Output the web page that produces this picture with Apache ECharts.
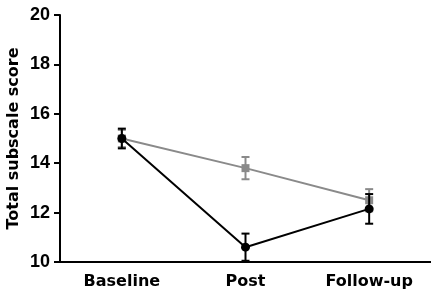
<!DOCTYPE html>
<html>
<head>
<meta charset="utf-8">
<script src="https://cdn.jsdelivr.net/npm/echarts@6/dist/echarts.min.js"></script>
<style>
  html, body { margin: 0; padding: 0; background: #fff; }
  #myChart { width: 431px; height: 293px; }
</style>
</head>
<body>
<div id="myChart"></div>
<script>
  // 数据
  var categories = ['Baseline', 'Post', 'Follow-up']
  var yTicks = [10, 12, 14, 16, 18, 20]
  var blackMean = [15.0, 10.6, 12.15]
  var blackErr = [0.4, 0.55, 0.6]
  var grayMean = [15.0, 13.8, 12.5]
  var grayErr = [0.35, 0.45, 0.45]

  var BLACK = '#000000'
  var GRAY = '#8a8a8a'

  function errData(mean, err) {
    return mean.map(function (m, i) {
      return [i, m - err[i], m + err[i]]
    })
  }

  // 误差线
  function errRender(color) {
    return function (params, api) {
      var x = api.value(0)
      var lo = api.coord([x, api.value(1)])
      var hi = api.coord([x, api.value(2)])
      var w = 4
      var st = { stroke: color, lineWidth: 2 }
      return {
        type: 'group',
        children: [
          { type: 'line', shape: { x1: hi[0], y1: hi[1], x2: lo[0], y2: lo[1] }, style: st },
          { type: 'line', shape: { x1: hi[0] - w, y1: hi[1], x2: hi[0] + w, y2: hi[1] }, style: st },
          { type: 'line', shape: { x1: lo[0] - w, y1: lo[1], x2: lo[0] + w, y2: lo[1] }, style: st }
        ]
      }
    }
  }

  var myChart = echarts.init(document.getElementById('myChart'))
  myChart.setOption({
    animation: false,
    grid: {
      left: 60,
      right: 0,
      top: 15,
      bottom: 31,
      containLabel: false,
      outerBoundsMode: 'none'
    },
    xAxis: {
      type: 'category',
      data: categories,
      boundaryGap: true,
      axisLine: { lineStyle: { color: BLACK, width: 2 } },
      axisTick: { alignWithLabel: true, length: 6, lineStyle: { color: BLACK, width: 2 } },
      axisLabel: { color: '#000', fontFamily: 'DejaVu Sans', fontWeight: 'bold', fontSize: 16, margin: 12 },
      splitLine: { show: false }
    },
    yAxis: {
      type: 'value',
      min: yTicks[0],
      max: yTicks[yTicks.length - 1],
      interval: 2,
      name: 'Total subscale score',
      nameLocation: 'middle',
      nameGap: 38,
      nameMoveOverlap: false,
      nameTextStyle: { color: '#000', fontFamily: 'DejaVu Sans', fontWeight: 'bold', fontSize: 16 },
      axisLine: { show: true, lineStyle: { color: BLACK, width: 2 } },
      axisTick: { show: true, length: 6, lineStyle: { color: BLACK, width: 2 } },
      axisLabel: { color: '#000', fontFamily: 'Liberation Sans', fontWeight: 'bold', fontSize: 18, margin: 10 },
      splitLine: { show: false }
    },
    series: [
      {
        name: 'grayErr',
        type: 'custom',
        renderItem: errRender(GRAY),
        data: errData(grayMean, grayErr),
        encode: { x: 0, y: [1, 2] },
        z: 2
      },
      {
        name: 'gray',
        type: 'line',
        data: grayMean,
        symbol: 'rect',
        symbolSize: 8,
        itemStyle: { color: GRAY },
        lineStyle: { color: GRAY, width: 2 },
        z: 3
      },
      {
        name: 'blackErr',
        type: 'custom',
        renderItem: errRender(BLACK),
        data: errData(blackMean, blackErr),
        encode: { x: 0, y: [1, 2] },
        z: 4
      },
      {
        name: 'black',
        type: 'line',
        data: blackMean,
        symbol: 'circle',
        symbolSize: 9,
        itemStyle: { color: BLACK },
        lineStyle: { color: BLACK, width: 2 },
        z: 5
      }
    ]
  })
</script>
</body>
</html>
